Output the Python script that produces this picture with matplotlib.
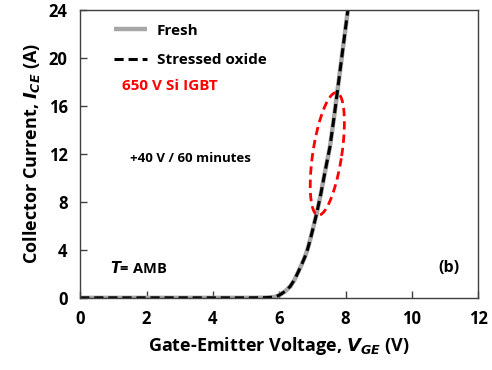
import numpy as np
import matplotlib
matplotlib.use("Agg")
import matplotlib.pyplot as plt

# Data
v_ge = [0.0, 1.0, 2.0, 3.0, 4.0, 5.0, 5.5, 5.75, 5.9, 6.02, 6.18, 6.33, 6.46, 6.58, 6.68, 6.78, 6.86, 6.93, 7.03, 7.13, 7.25, 7.38, 7.53, 7.67, 7.80, 7.93, 8.07]
i_fresh = [0.0, 0.0, 0.0, 0.0, 0.0, 0.0, 0.01, 0.04, 0.1, 0.25, 0.55, 0.95, 1.5, 2.2, 2.8, 3.45, 4.1, 4.8, 5.9, 7.05, 8.6, 10.5, 12.6, 15.4, 18.2, 21.0, 24.0]
i_stressed = [0.0, 0.0, 0.0, 0.0, 0.0, 0.0, 0.01, 0.04, 0.1, 0.25, 0.55, 0.95, 1.5, 2.2, 2.8, 3.45, 4.1, 4.8, 5.9, 7.05, 8.6, 10.5, 12.6, 15.4, 18.2, 21.0, 24.0]

x_ticks = [0, 2, 4, 6, 8, 10, 12]
y_ticks = [0, 4, 8, 12, 16, 20, 24]

# Annotation ellipse (data units): centre, half-axes in pixels, tilt
ell_center = (7.45, 12.0)
ell_a_px, ell_b_px, ell_tilt_deg = 62.0, 14.5, 8.6

plt.rcParams['font.family'] = ['Open Sans', 'DejaVu Sans']
plt.rcParams['font.weight'] = 'bold'

fig = plt.figure(figsize=(4.92, 3.70), dpi=100)
ax = fig.add_axes([0.163, 0.195, 0.809, 0.778])

ax.plot(v_ge, i_fresh, color='#a6a6a6', lw=3.2, label='Fresh', solid_capstyle='butt')
ax.plot(v_ge, i_stressed, color='black', lw=2.2, ls=(0, (3, 1.6)), label='Stressed oxide')

ax.set_xlim(0, 12)
ax.set_ylim(0, 24)
ax.set_xticks(x_ticks)
ax.set_yticks(y_ticks)
ax.tick_params(direction='in', length=5, width=1, labelsize=12, pad=9, color='#404040')
for lab in ax.get_xticklabels() + ax.get_yticklabels():
    lab.set_fontweight('bold')
for s in ax.spines.values():
    s.set_color('#404040')
    s.set_linewidth(1.0)

ax.set_xlabel(r'Gate-Emitter Voltage, $\mathbfit{V}_{\mathbfit{GE}}$ (V)', fontsize=13, fontweight='bold', labelpad=5)
ax.set_ylabel(r'Collector Current, $\mathbfit{I}_{\mathbfit{CE}}$ (A)', fontsize=13, fontweight='bold', labelpad=5)

leg = ax.legend(loc='upper left', frameon=False, fontsize=11, handlelength=2.2,
                bbox_to_anchor=(0.05, 1.0), labelspacing=1.0, handletextpad=0.6)
for t in leg.get_texts():
    t.set_fontweight('bold')

ax.text(0.105, 0.735, '650 V Si IGBT', transform=ax.transAxes, color='red', fontsize=11, fontweight='bold', va='center')
ax.text(0.125, 0.485, '+40 V / 60 minutes', transform=ax.transAxes, color='black', fontsize=9.5, fontweight='bold', va='center')
ax.text(0.075, 0.105, r'$\mathbfit{T}$= AMB', transform=ax.transAxes, color='black', fontsize=10.5, fontweight='bold', va='center')
ax.text(0.9, 0.105, '(b)', transform=ax.transAxes, color='black', fontsize=11.5, fontweight='bold', va='center')

# Ellipse drawn in pixel-like units then converted to data
sx = 398.0 / 12.0  # px per V
sy = 288.0 / 24.0  # px per A
t = np.linspace(0, 2 * np.pi, 200)
th = np.deg2rad(ell_tilt_deg)
px = ell_b_px * np.cos(t)
py = ell_a_px * np.sin(t)
rx = px * np.cos(th) + py * np.sin(th)
ry = -px * np.sin(th) + py * np.cos(th)
ax.plot(ell_center[0] + rx / sx, ell_center[1] + ry / sy, color='red', lw=2.0, ls=(0, (3, 1.8)))

fig.savefig('out.png', dpi=100)
